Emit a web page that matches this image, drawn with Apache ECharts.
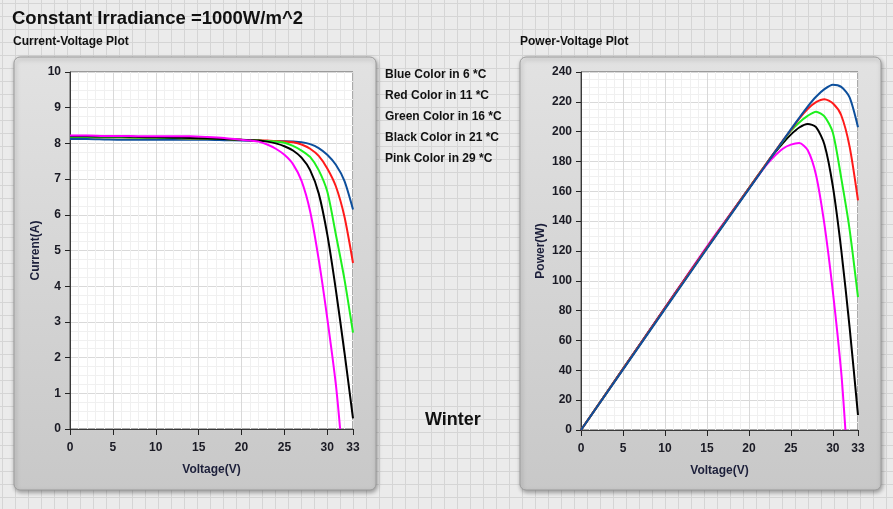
<!DOCTYPE html>
<html>
<head>
<meta charset="utf-8">
<script src="https://cdn.jsdelivr.net/npm/echarts@6/dist/echarts.min.js"></script>
<style>
  html, body { margin: 0; padding: 0; }
  body {
    width: 893px; height: 509px;
    background-color: #ebebeb;
    background-image: linear-gradient(#d5d5d5 1px, transparent 1px),
                      linear-gradient(90deg, #d5d5d5 1px, transparent 1px);
    background-size: 13px 13px;
    background-position: 2px 3px;
  }
  #chart { width: 893px; height: 509px; }
</style>
</head>
<body>
<div id="chart"></div>
<script>
// I-V curves (voltage in V, current in A)
var ivVoltage = [0, 2, 4, 6, 8, 10, 12, 14, 16, 18, 20, 22, 23, 24, 25, 26, 27, 28, 29, 30, 31, 32, 33];
var ivBlue  = [8.12, 8.12, 8.11, 8.1, 8.1, 8.1, 8.1, 8.1, 8.1, 8.09, 8.08, 8.07, 8.07, 8.06, 8.06, 8.05, 8.03, 7.98, 7.87, 7.68, 7.4, 6.95, 6.15];
var ivRed   = [8.18, 8.18, 8.17, 8.17, 8.16, 8.16, 8.15, 8.14, 8.13, 8.12, 8.1, 8.09, 8.08, 8.07, 8.05, 8.03, 7.97, 7.85, 7.65, 7.3, 6.8, 5.95, 4.65];
var ivGreen = [8.18, 8.18, 8.17, 8.17, 8.16, 8.16, 8.15, 8.14, 8.13, 8.12, 8.1, 8.08, 8.07, 8.05, 8.02, 7.93, 7.8, 7.62, 7.25, 6.65, 5.45, 4.2, 2.7];
var ivBlack = [8.2, 8.2, 8.19, 8.19, 8.18, 8.17, 8.16, 8.15, 8.14, 8.12, 8.1, 8.08, 8.05, 8.0, 7.92, 7.8, 7.6, 7.25, 6.6, 5.45, 3.9, 2.15, 0.3];
var ivPinkVoltage = [0, 2, 4, 6, 8, 10, 12, 14, 16, 18, 20, 21, 22, 23, 24, 25, 26, 27, 28, 29, 30, 31, 31.5];
var ivPink  = [8.22, 8.22, 8.21, 8.21, 8.2, 8.2, 8.2, 8.2, 8.18, 8.15, 8.1, 8.08, 8.05, 7.97, 7.85, 7.68, 7.42, 6.95, 6.1, 4.75, 3.1, 1.25, 0];

// P-V curves (voltage in V, power in W)
var pvVoltage = [0, 5, 10, 15, 20, 22, 23, 24, 25, 26, 27, 28, 29, 30, 31, 32, 33];
var pvBlue  = [0, 40.5, 81, 121.5, 161.5, 177.5, 185.6, 193.5, 201.5, 209.3, 216.8, 223.4, 228.5, 231.5, 230, 223, 203];
var pvRed   = [0, 40.8, 81.6, 122, 162, 178, 185.8, 193.7, 201, 208.8, 215.2, 219.8, 221.8, 219, 211, 190, 154];
var pvGreen = [0, 40.8, 81.6, 122, 162, 177.8, 185.6, 193.2, 200.5, 206.2, 210.6, 213.4, 210.3, 199.5, 169, 134.4, 89];
var pvBlack = [0, 41, 81.7, 122.2, 162, 177.8, 185.2, 192, 198, 202.8, 205.2, 203, 191.4, 163.5, 121, 68.8, 10];
var pvPinkVoltage = [0, 5, 10, 15, 20, 21, 22, 23, 24, 25, 26, 27, 28, 29, 30, 31, 31.5];
var pvPink  = [0, 41, 82, 123, 162, 169.5, 177, 183.3, 188.4, 191.3, 192.4, 187.7, 171, 137.8, 93, 38.8, 0];

var xTickValues = [0, 5, 10, 15, 20, 25, 30, 33];
var legendLines = ['Blue Color in 6 *C', 'Red Color in 11 *C', 'Green Color in 16 *C', 'Black Color in 21 *C', 'Pink Color in 29 *C'];

var colors = { blue: '#0d4f9c', red: '#ff1a1a', green: '#1ef01e', black: '#000000', pink: '#ff00ff' };

function pairs(xs, ys) { return xs.map(function (x, i) { return [x, ys[i]]; }); }

var tickFont = { fontFamily: 'Liberation Sans', fontWeight: 'bold', fontSize: 12, color: '#1a1a24' };
var nameFont = { fontFamily: 'Liberation Sans', fontWeight: 'bold', fontSize: 12, color: '#1c1f3a' };

function xAxisCfg(idx) {
  return {
    gridIndex: idx, type: 'value', min: 0, max: 33, interval: 5,
    name: 'Voltage(V)', nameLocation: 'middle', nameGap: 35, nameTextStyle: nameFont,
    axisLine: { show: true, onZero: false, lineStyle: { color: '#3a3a3a', width: 1 } },
    axisTick: { show: true, inside: false, length: 6, customValues: xTickValues, lineStyle: { color: '#222' } },
    axisLabel: Object.assign({ margin: 13, customValues: xTickValues }, tickFont),
    splitLine: { show: true, lineStyle: { color: '#d9d9d9', width: 1 } },
    minorTick: { show: false, splitNumber: 5 },
    minorSplitLine: { show: true, lineStyle: { color: '#f0f0f0', width: 1 } }
  };
}
function yAxisCfg(idx, name, max, interval, gap) {
  return {
    gridIndex: idx, type: 'value', min: 0, max: max, interval: interval,
    name: name, nameLocation: 'middle', nameGap: gap, nameTextStyle: nameFont,
    axisLine: { show: true, lineStyle: { color: '#3a3a3a', width: 1 } },
    axisTick: { show: true, inside: false, length: 5, lineStyle: { color: '#222' } },
    axisLabel: Object.assign({ margin: 9 }, tickFont),
    splitLine: { show: true, lineStyle: { color: '#d9d9d9', width: 1 } },
    minorTick: { show: false, splitNumber: 4 },
    minorSplitLine: { show: true, lineStyle: { color: '#f0f0f0', width: 1 } }
  };
}
function line(name, xi, data, color) {
  return {
    name: name, type: 'line', xAxisIndex: xi, yAxisIndex: xi, data: data,
    showSymbol: false, smooth: 0.25, animation: false,
    lineStyle: { color: color, width: 2 }, itemStyle: { color: color }
  };
}
function panel(x, y, w, h) {
  return {
    type: 'rect', z: -10, shape: { x: x, y: y, width: w, height: h, r: 6 },
    style: {
      fill: new echarts.graphic.LinearGradient(0, 0, 0, 1, [
        { offset: 0, color: '#e2e2e2' }, { offset: 1, color: '#c8c8c8' }
      ]),
      stroke: '#9c9c9c', lineWidth: 1,
      shadowBlur: 4, shadowOffsetX: 1, shadowOffsetY: 2, shadowColor: 'rgba(0,0,0,0.35)'
    }
  };
}
function label(text, x, y, size) {
  return {
    type: 'text', z: 10, x: x, y: y,
    style: { text: text, fill: '#111', font: 'bold ' + size + 'px "Liberation Sans"' }
  };
}

var chart = echarts.init(document.getElementById('chart'), null, { renderer: 'canvas' });

var graphics = [
  panel(14, 57, 362, 433),
  panel(520, 57, 361, 433),
  label('Constant Irradiance =1000W/m^2', 12, 9, 18.5),
  label('Current-Voltage Plot', 13, 36, 12),
  label('Power-Voltage Plot', 520, 36, 12),
  label('Winter', 425, 411, 18)
];
legendLines.forEach(function (t, i) {
  graphics.push(label(t, 385, 69 + i * 21, 12));
});

chart.setOption({
  animation: false,
  backgroundColor: 'transparent',
  graphic: graphics,
  grid: [
    { left: 70, top: 72, width: 283, height: 357, show: true, backgroundColor: '#ffffff', borderColor: '#555', borderWidth: 1 },
    { left: 581, top: 72, width: 277, height: 358, show: true, backgroundColor: '#ffffff', borderColor: '#555', borderWidth: 1 }
  ],
  xAxis: [xAxisCfg(0), xAxisCfg(1)],
  yAxis: [yAxisCfg(0, 'Current(A)', 10, 1, 28), yAxisCfg(1, 'Power(W)', 240, 20, 34)],
  series: [
    line('Blue', 0, pairs(ivVoltage, ivBlue), colors.blue),
    line('Red', 0, pairs(ivVoltage, ivRed), colors.red),
    line('Green', 0, pairs(ivVoltage, ivGreen), colors.green),
    line('Black', 0, pairs(ivVoltage, ivBlack), colors.black),
    line('Pink', 0, pairs(ivPinkVoltage, ivPink), colors.pink),
    line('Pink', 1, pairs(pvPinkVoltage, pvPink), colors.pink),
    line('Black', 1, pairs(pvVoltage, pvBlack), colors.black),
    line('Green', 1, pairs(pvVoltage, pvGreen), colors.green),
    line('Red', 1, pairs(pvVoltage, pvRed), colors.red),
    line('Blue', 1, pairs(pvVoltage, pvBlue), colors.blue)
  ]
});
</script>
</body>
</html>
